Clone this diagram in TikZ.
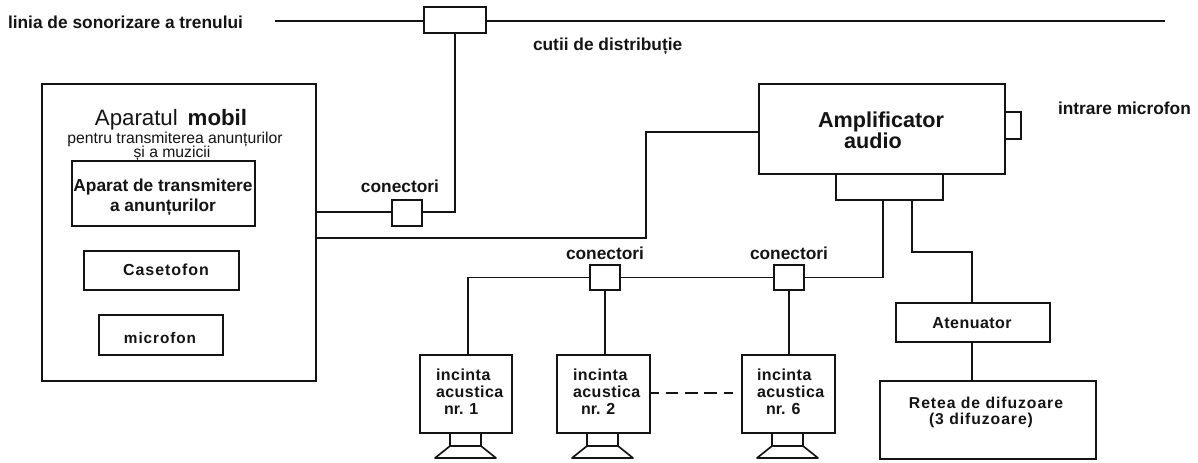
\documentclass[tikz,border=0pt]{standalone}
\usepackage{fontspec}
\setmainfont{Liberation Sans}
\newcommand{\fs}[1]{\fontsize{#1}{#1}\selectfont}
\newcommand{\pxbox}[5]{%
  \pgfmathsetmacro\bxc{(#2+#4)/2}\pgfmathsetmacro\byc{(#3+#5)/2}%
  \pgfmathsetmacro\bxw{(#4-#2)*0.75}\pgfmathsetmacro\byh{(#5-#3)*0.75}%
  \node[unit,minimum width=\bxw pt,minimum height=\byh pt] (#1) at (\bxc,\byc) {};}
\newcommand{\speaker}[1]{%
  \draw[wire,line join=round] (#1,433) -- (#1,446) (#1+31,433) -- (#1+31,446)
    (#1,446) -- (#1+31,446) -- (#1+46,458) -- (#1-15,458) -- cycle;}
\tikzset{
  wire/.style={line width=1.25pt,black!92},
  unit/.style={draw=black!92,line width=1.25pt,fill=white,inner sep=0pt,outer sep=0pt},
  lab/.style={inner sep=0pt,outer sep=0pt,text=black!92,align=center},
  boldlab/.style={lab,font=\fs{13}\bfseries},
  leftlab/.style={lab,anchor=west,align=left},
  inclab/.style={lab,leftlab,font=\fs{12}\bfseries},
}
\begin{document}
\begin{tikzpicture}[x=0.75pt,y=-0.75pt]
\useasboundingbox (0,0) rectangle (1198,463);
% boxes
\pxbox{cutie}{424}{7}{486}{33}
\pxbox{mobil}{42}{84}{316}{381}
\pxbox{aparat}{72}{161}{255}{226}
\pxbox{casetofon}{84}{251}{239}{290}
\pxbox{microfon}{99}{315}{223}{355}
\pxbox{conA}{392}{200}{422}{226}
\pxbox{conB}{590}{265}{620}{290}
\pxbox{conC}{774}{265}{804}{290}
\pxbox{amp}{759}{84}{1005}{174}
\pxbox{nub}{1005}{112}{1021}{139}
\pxbox{iesire}{836}{174}{943}{200}
\pxbox{atenuator}{896}{303}{1050}{342}
\pxbox{retea}{880}{381}{1096}{459}
\pxbox{incA}{420}{355}{512}{433}
\pxbox{incB}{557}{355}{650}{433}
\pxbox{incC}{742}{355}{835}{433}
% free ends
\coordinate (lineL) at (275,21);
\coordinate (lineR) at (1165,21);
\coordinate (a1) at (883,200);
\coordinate (a2) at (912,200);
\coordinate (a2b) at (972,252);
\coordinate (m1) at (316,212);
\coordinate (m2) at (316,238);
\coordinate (m2b) at (646,238);
\coordinate (am) at (759,132);
\coordinate (busA) at (468,277.5);
\coordinate (dashA) at (650,393);
\coordinate (dashB) at (733,393);
% connectors
\draw[wire] (lineL) -- (cutie.west |- lineL);
\draw[wire] (cutie.east |- lineR) -- (lineR);
\draw[wire] (cutie.south) -- (455,33) -- (455,212) -- (conA.east |- m1);
\draw[wire] (m1) -- (conA.west |- m1);
\draw[wire] (m2) -- (m2b) -- (m2b |- am) -- (am);
\draw[wire] (a1) -- (a1 |- conC.east) -- (conC.east);
\draw[wire] (conC.west) -- (conB.east);
\draw[wire] (conB.west) -- (busA) -- (busA |- incA.north);
\draw[wire] (conB.south) -- (conB.south |- incB.north);
\draw[wire] (conC.south) -- (conC.south |- incC.north);
\draw[wire] (a2) -- (912,252) -- (a2b) -- (a2b |- atenuator.north);
\draw[wire] (a2b |- atenuator.south) -- (a2b |- retea.north);
\draw[wire,dash pattern=on 9.5pt off 5pt,dash phase=2.75pt,line width=1.5pt] (dashA) -- (dashB);
\speaker{450}
\speaker{587}
\speaker{772}
% labels
\node[boldlab,leftlab] (tLinia) at (8,22) {linia de sonorizare a trenului};
\node[boldlab,leftlab] (tCutii) at (533,46) {cutii de distribuție};
\node[boldlab,leftlab] (tIntrare) at (1058,108) {intrare microfon};
\node[boldlab] (tConA) at (400,186) {conectori};
\node[boldlab] (tConB) at (605,253) {conectori};
\node[boldlab] (tConC) at (789,253) {conectori};
\node[lab,font=\fs{16.7}] (tMobil) at (171,120) {Aparatul \textbf{\,mobil}};
\node[lab,font=\fs{11.8}] (tPentru) at (175,139) {pentru transmiterea anunțurilor};
\node[lab,font=\fs{11.8}] (tSi) at (172,153) {și a muzicii};
\node[lab,font=\fs{13}\bfseries] (tAparat) at (163,187) {Aparat de transmitere};
\node[lab,font=\fs{13}\bfseries] (tAnunt) at (163,207) {a anunțurilor};
\node[lab,font=\fs{12}\bfseries] (tCaset) at (166,270) {\addfontfeature{LetterSpace=6}Casetofon};
\node[lab,font=\fs{11.5}\bfseries] (tMicro) at (160,338) {\addfontfeature{LetterSpace=6}microfon};
\node[lab,font=\fs{16.2}\bfseries] (tAmp) at (881,122) {Amplificator};
\node[lab,font=\fs{16.2}\bfseries] (tAudio) at (873,141) {audio};
\node[lab,font=\fs{12}\bfseries] (tAten) at (972,323) {\addfontfeature{LetterSpace=3}Atenuator};
\node[lab,font=\fs{11.8}\bfseries] (tRetea) at (986,403) {\addfontfeature{LetterSpace=6}Retea de difuzoare};
\node[lab,font=\fs{11.8}\bfseries] (tTrei) at (981,420) {\addfontfeature{LetterSpace=6}(3 difuzoare)};
\node[inclab] (iA) at (436,375) {\addfontfeature{LetterSpace=3}incinta};
\node[inclab] (iB) at (436,392) {\addfontfeature{LetterSpace=3}acustica};
\node[inclab] (iC) at (444,409) {nr. 1};
\node[inclab] (jA) at (573,375) {\addfontfeature{LetterSpace=3}incinta};
\node[inclab] (jB) at (573,392) {\addfontfeature{LetterSpace=3}acustica};
\node[inclab] (jC) at (581,409) {nr. 2};
\node[inclab] (kA) at (757,375) {\addfontfeature{LetterSpace=3}incinta};
\node[inclab] (kB) at (757,392) {\addfontfeature{LetterSpace=3}acustica};
\node[inclab] (kC) at (766,409) {nr. 6};
\end{tikzpicture}
\end{document}
